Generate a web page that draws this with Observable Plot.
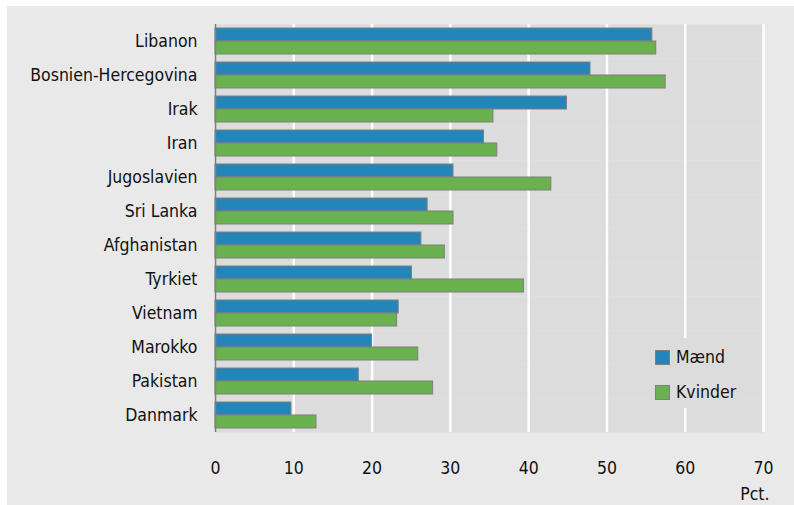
<!DOCTYPE html>
<html>
<head>
<meta charset="utf-8">
<script src="https://cdn.jsdelivr.net/npm/d3@7"></script>
<script src="https://cdn.jsdelivr.net/npm/@observablehq/plot@0.6"></script>
<style>
  html, body { margin: 0; padding: 0; background: #ffffff; }
  #wrap { position: absolute; left: 7px; top: 6px; width: 787px; height: 499px; background: #e9e9e9; }
  #wrap svg { display: block; }
  #legend { position: absolute; left: 641px; top: 332px; width: 97px; height: 70px; background: #dcdcdc;
    font-family: "DejaVu Sans Condensed", "DejaVu Sans", sans-serif; font-size: 17.5px; color: #111; }
  .item { position: absolute; left: 7px; display: flex; align-items: center; }
  .sw { width: 13px; height: 13px; border: 1px solid #7f7f7f; margin-right: 6px; box-sizing: content-box; }
</style>
</head>
<body>
<div id="wrap"></div>
<script>
const countries = ["Libanon","Bosnien-Hercegovina","Irak","Iran","Jugoslavien","Sri Lanka","Afghanistan","Tyrkiet","Vietnam","Marokko","Pakistan","Danmark"];
const maend   = [55.8, 47.9, 44.9, 34.3, 30.4, 27.1, 26.3, 25.1, 23.4, 20.0, 18.3, 9.7];
const kvinder = [56.3, 57.5, 35.5, 36.0, 42.9, 30.4, 29.3, 39.4, 23.2, 25.9, 27.8, 12.9];
const series = ["Mænd", "Kvinder"];
const colors = ["#2585b9", "#69b24f"];
const xTicks = [0, 10, 20, 30, 40, 50, 60, 70];
const unitLabel = "Pct.";

const data = [];
countries.forEach((c, i) => {
  data.push({country: c, sex: series[0], value: maend[i]});
  data.push({country: c, sex: series[1], value: kvinder[i]});
});

const font = '"DejaVu Sans Condensed", "DejaVu Sans", sans-serif';

const chart = Plot.plot({
  width: 787,
  height: 499,
  marginLeft: 208,
  marginRight: 31,
  marginTop: 17,
  marginBottom: 73,
  style: { background: "#e9e9e9", fontFamily: font, fontSize: "17.5px", color: "#111" },
  x: { domain: [0, 70] },
  fy: { domain: countries, padding: 0, label: null, axis: "left", tickSize: 0, tickPadding: 18 },
  y: { domain: series, paddingInner: 0, paddingOuter: 0.2143, axis: null },
  color: { domain: series, range: colors },
  marks: [
    Plot.frame({ fill: "#dcdcdc", stroke: null }),
    Plot.gridX(xTicks.slice(1), { stroke: "#ffffff", strokeOpacity: 1, strokeWidth: 2.5 }),
    Plot.barX(data, { x: "value", y: "sex", fy: "country", fill: "sex", stroke: "#7f7f7f", strokeWidth: 1 }),
    Plot.ruleX([0], { stroke: "#7f7f7f", strokeWidth: 1.5 }),
    Plot.axisX(xTicks, { tickSize: 0, tickPadding: 29, fontSize: 17.5, label: null }),
    Plot.text([unitLabel], { facet: "super", text: d => d, frameAnchor: "bottom-right", textAnchor: "end", dx: 6, dy: 67, fontSize: 17.5 })
  ]
});
document.getElementById("wrap").appendChild(chart);

const legend = document.createElement("div");
legend.id = "legend";
series.forEach((s, i) => {
  const it = document.createElement("div");
  it.className = "item";
  it.style.top = (i === 0 ? 9 : 44) + "px";
  const sw = document.createElement("div");
  sw.className = "sw";
  sw.style.background = colors[i];
  const t = document.createElement("span");
  t.textContent = s;
  it.appendChild(sw); it.appendChild(t);
  legend.appendChild(it);
});
document.getElementById("wrap").appendChild(legend);
</script>
</body>
</html>
